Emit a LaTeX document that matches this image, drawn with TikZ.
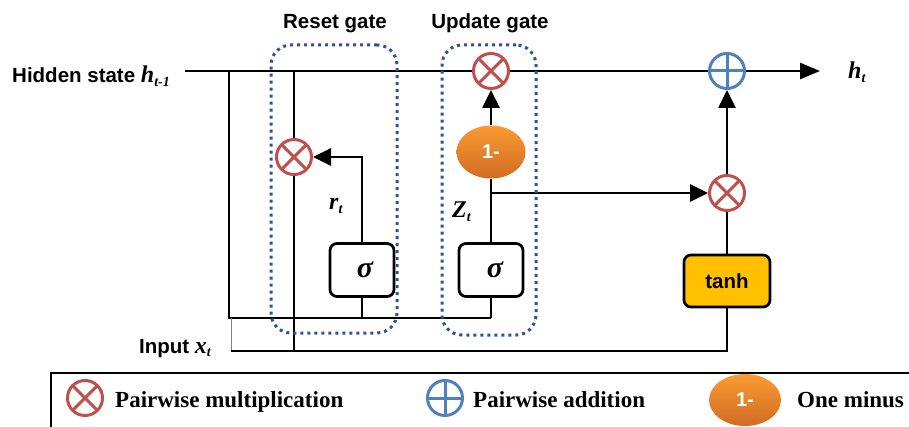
\documentclass[tikz,border=0pt]{standalone}
\usepackage{fontspec}
\setmainfont{Liberation Serif}
\setsansfont{Liberation Sans}
\usetikzlibrary{arrows.meta,shapes.geometric}

\definecolor{mulred}{RGB}{192,80,77}
\definecolor{addblue}{RGB}{79,129,189}
\definecolor{gatedot}{RGB}{46,84,150}
\definecolor{tanhfill}{RGB}{255,192,0}
\definecolor{onetop}{RGB}{250,155,50}
\definecolor{onebot}{RGB}{208,108,35}

\newcommand\lblfont{\sffamily\bfseries\fontsize{20.5}{22}\selectfont}
\newcommand\legfont{\rmfamily\bfseries\fontsize{23}{25}\selectfont}
\newcommand\bivar[2]{{\rmfamily\bfseries\itshape\fontsize{24}{26}\selectfont #1\raisebox{-0.35ex}{\fontsize{14}{14}\selectfont #2}}}

\tikzset{
  wire/.style={line width=2.7pt},
  tip/.style={-{Triangle[length=18pt,width=17pt]}},
  mulop/.style={circle, draw=mulred, line width=3pt, fill=white,
    minimum size=35pt, inner sep=0pt,
    path picture={\draw[mulred,line width=3pt]
      ([shift={(45:17pt)}]path picture bounding box.center) --
      ([shift={(225:17pt)}]path picture bounding box.center)
      ([shift={(135:17pt)}]path picture bounding box.center) --
      ([shift={(-45:17pt)}]path picture bounding box.center);}},
  addop/.style={circle, draw=addblue, line width=3pt, fill=white,
    minimum size=35pt, inner sep=0pt,
    path picture={\draw[addblue,line width=3pt]
      ([shift={(0:17pt)}]path picture bounding box.center) --
      ([shift={(180:17pt)}]path picture bounding box.center)
      ([shift={(90:17pt)}]path picture bounding box.center) --
      ([shift={(-90:17pt)}]path picture bounding box.center);}},
  sigbox/.style={rectangle, rounded corners=7pt, draw, line width=2.7pt,
    fill=white, minimum width=64pt, minimum height=53pt, inner sep=0pt,
    font=\rmfamily\bfseries\itshape\fontsize{30}{30}\selectfont},
  tanhbox/.style={rectangle, rounded corners=7pt, draw, line width=2.7pt,
    fill=tanhfill, minimum width=86pt, minimum height=52pt, inner sep=0pt,
    font=\lblfont},
  onem/.style={ellipse, minimum width=69pt, minimum height=53pt,
    inner sep=0pt, top color=onetop, bottom color=onebot, draw=none,
    text=white, font=\sffamily\bfseries\fontsize{20}{20}\selectfont},
  gatebox/.style={rectangle, draw=gatedot, line width=3pt,
    dash pattern=on 3pt off 4pt, rounded corners=20pt, inner sep=0pt},
  legline/.style={line width=1.5pt},
}

\begin{document}
\begin{tikzpicture}[x=1pt,y=-1pt]
\useasboundingbox (0,0) rectangle (909,427);

% operators and blocks
\node[mulop] (mR) at (294,157) {};
\node[mulop] (mU) at (491,71) {};
\node[mulop] (mH) at (727,193) {};
\node[addop] (ad) at (727,71) {};
\node[sigbox] (sR) at (362,270) {\hspace*{6pt}σ};
\node[sigbox] (sU) at (491,270) {\hspace*{8pt}σ};
\node[onem] (om) at (491,152) {1-};
\node[tanhbox] (th) at (727,281) {tanh};

% junction points of the wiring
\coordinate (hs) at (185,71);
\coordinate (hend) at (820,71);
\coordinate (jL) at (229,71);
\coordinate (jLb) at (229,318);
\coordinate (bus) at (491,318);
\coordinate (jR) at (294,71);
\coordinate (xs) at (231,351);
\coordinate (xe) at (727,351);
\coordinate (zb) at (491,193);

% hidden state path
\draw[wire] (hs) -- (mU.west);
\draw[wire] (mU.east) -- (ad.west);
\draw[wire,-{Triangle[length=20pt,width=16pt]}] (ad.east) -- (hend);

% inputs to the gates
\draw[wire] (jL) -- (jLb) -- (bus);
\draw[wire] (jR) -- (mR.north);
\draw[wire] (mR.south) -- (jR |- xs);
\draw[gray,line width=0.8pt] (xs |- jLb) -- (xs);
\draw[wire] (xs) -- (xe) -- (th.south);

% reset gate
\draw[wire] (sR.south) -- (sR.south |- bus);
\draw[wire,tip] (sR.north) |- (mR.east);

% update gate
\draw[wire] (sU.south) -- (bus);
\draw[wire] (sU.north) -- (om.south);
\draw[wire,tip] (om.north) -- (mU.south);
\draw[wire,tip] (zb) -- (mH.west);

% candidate state
\draw[wire] (th.north) -- (mH.south);
\draw[wire,tip] (mH.north) -- (ad.south);

% gate outlines
\node[gatebox, minimum width=126pt, minimum height=288pt] (gR) at (334,189) {};
\node[gatebox, minimum width=94pt, minimum height=290pt] (gU) at (489,190) {};

% labels
\node[font=\lblfont, anchor=base] (tR) at (335,29) {Reset gate};
\node[font=\lblfont, anchor=base] (tU) at (490,29) {Update gate};
\node[anchor=base west, inner sep=0pt] (lh) at (12,83) {{\lblfont Hidden state }\bivar{h}{t-1}};
\node[anchor=base west, inner sep=0pt] (lht) at (848,79) {\bivar{h}{t}};
\node[anchor=base west, inner sep=0pt] (lr) at (329,210) {\bivar{r}{t}};
\node[anchor=base west, inner sep=0pt] (lz) at (452,218) {\bivar{Z}{t}};
\node[anchor=base west, inner sep=0pt] (lx) at (139,353) {{\lblfont Input }\bivar{x}{t}};

% legend
\draw[legline] (51,427) -- (51,373) -- (909,373);
\node[mulop] (lgm) at (85,398) {};
\node[anchor=base west, inner sep=0pt, font=\legfont] at (115,407) {Pairwise multiplication};
\node[addop] (lga) at (445,398) {};
\node[anchor=base west, inner sep=0pt, font=\legfont] at (473,407) {Pairwise addition};
\node[onem, minimum width=72pt, minimum height=52pt] (lgo) at (745,400) {1-};
\node[anchor=base west, inner sep=0pt, font=\legfont] at (797,407) {One minus};
\end{tikzpicture}
\end{document}
